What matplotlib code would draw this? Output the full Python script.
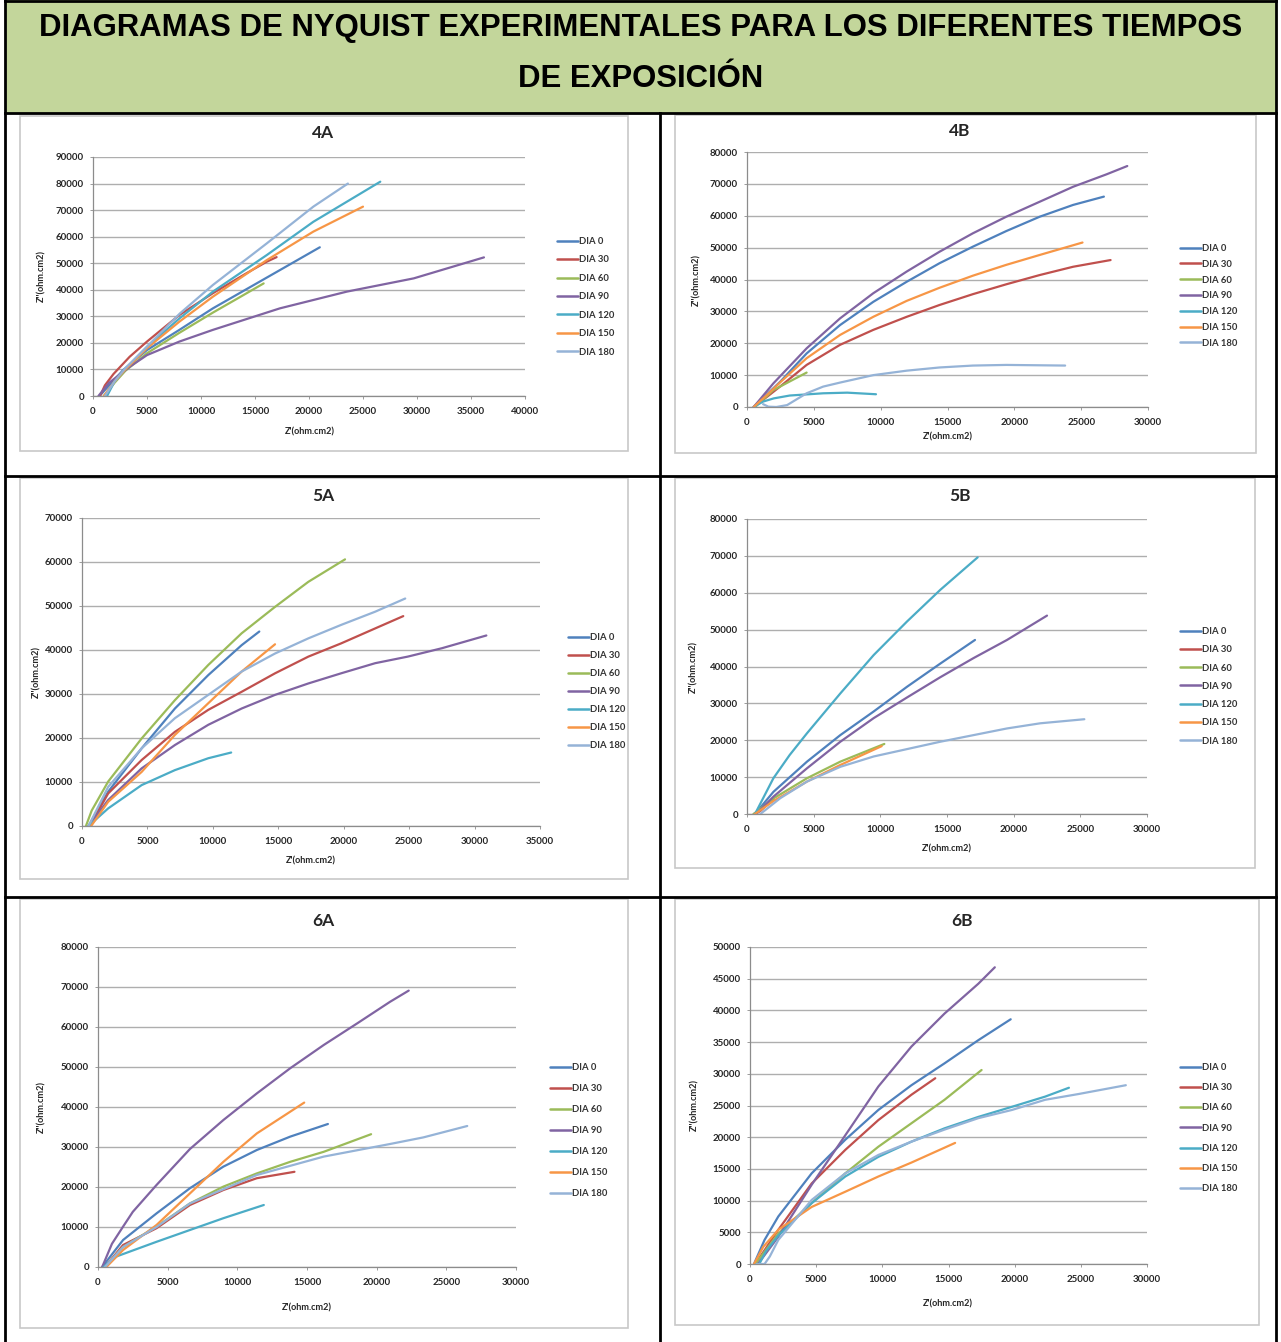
import matplotlib
matplotlib.use("Agg")
import matplotlib.pyplot as plt
from matplotlib.patches import Rectangle
from matplotlib.lines import Line2D

# ---------------- DATA ----------------
SERIES = ["DIA 0", "DIA 30", "DIA 60", "DIA 90", "DIA 120", "DIA 150", "DIA 180"]
COLORS = ["#4F81BD", "#C0504D", "#9BBB59", "#8064A2", "#4BACC6", "#F79646", "#95B3D7"]

TITLE_LINES = ["DIAGRAMAS DE NYQUIST EXPERIMENTALES PARA LOS DIFERENTES TIEMPOS",
               "DE EXPOSICIÓN"]
PANELS = ["4A", "4B", "5A", "5B", "6A", "6B"]
XLABEL = "Z'(ohm.cm2)"
YLABEL = "Z''(ohm.cm2)"

X_4A = [
    [600, 1500, 2800, 5000, 8000, 11100, 14200, 17300, 21000],
    [650, 1100, 1900, 3400, 5000, 8000, 11100, 14200, 16100, 17000],
    [1000, 2000, 3000, 5000, 8000, 11100, 13500, 15800],
    [500, 1500, 3400, 5000, 8000, 11100, 17300, 23500, 29700, 36200],
    [1300, 2000, 3000, 5000, 8000, 11100, 16100, 20400, 26600],
    [1000, 2000, 3000, 5000, 8000, 11100, 16100, 20400, 25000],
    [1100, 2000, 3000, 5000, 8050, 11100, 16100, 20400, 23600],
]
Y_4A = [
    [0, 4000, 9800, 17300, 24900, 33000, 40200, 47400, 56000],
    [0, 4000, 8300, 14800, 20500, 30500, 38700, 46200, 50600, 52300],
    [0, 5000, 9500, 16100, 23800, 31400, 37000, 42400],
    [0, 5000, 11000, 15400, 20500, 24900, 33000, 39300, 44300, 52200],
    [0, 5500, 10000, 18500, 29200, 39300, 53100, 65600, 80700],
    [0, 5500, 10000, 18000, 28000, 37400, 51200, 61900, 71300],
    [0, 5500, 10500, 18600, 31100, 41800, 57500, 71300, 80000],
]

X_4B = [
    [500, 1500, 2500, 4460, 6960, 9450, 11950, 14400, 16900, 19400, 21900, 24400, 26700],
    [500, 1500, 2500, 4460, 6960, 9450, 11950, 14400, 16900, 19400, 21900, 24400, 27200],
    [600, 1970, 4460],
    [500, 1970, 4460, 6960, 9450, 11950, 14400, 16900, 19400, 21900, 24400, 26900, 28450],
    [500, 1200, 2000, 3200, 5700, 7500, 9650],
    [500, 1500, 2500, 4460, 6960, 9450, 11950, 14400, 16900, 19400, 21900, 25100],
    [1200, 1600, 2200, 3000, 4460, 5700, 7000, 9450, 11950, 14400, 16900, 19400, 23800],
]
Y_4B = [
    [0, 4000, 8000, 16800, 25700, 33000, 39300, 45100, 50300, 55200, 59700, 63400, 66000],
    [0, 3200, 6500, 13200, 19500, 24200, 28300, 32000, 35400, 38500, 41400, 44000, 46100],
    [0, 5300, 10800],
    [0, 7400, 18400, 27800, 35700, 42500, 48700, 54500, 59700, 64400, 69100, 73000, 75600],
    [0, 1700, 2700, 3600, 4300, 4500, 4000],
    [0, 3800, 7800, 15300, 22600, 28300, 33300, 37400, 41200, 44600, 47700, 51600],
    [900, 100, 0, 600, 4300, 6400, 7700, 10000, 11400, 12400, 13000, 13200, 13000],
]

X_5A = [
    [500, 2000, 4560, 7100, 9650, 12200, 13550],
    [600, 2000, 4560, 7100, 9650, 12200, 14750, 17300, 19800, 22400, 24550],
    [300, 740, 2000, 4560, 7100, 9650, 12200, 14750, 17300, 20100],
    [500, 2000, 4560, 7100, 9650, 12200, 14750, 17300, 19800, 22400, 24900, 27500, 30900],
    [500, 2000, 4560, 7100, 9650, 11400],
    [700, 2000, 4560, 7100, 9650, 12200, 14750],
    [500, 2000, 4560, 7100, 9650, 12200, 14750, 17300, 19800, 22400, 24700],
]
Y_5A = [
    [0, 7800, 17650, 26700, 34300, 41100, 44200],
    [0, 7400, 15000, 21400, 26400, 30500, 34700, 38500, 41500, 44900, 47700],
    [0, 3500, 10100, 19900, 28600, 36600, 43800, 49800, 55500, 60600],
    [0, 5900, 13100, 18400, 23000, 26700, 29800, 32400, 34700, 37000, 38500, 40400, 43300],
    [0, 4000, 9300, 12700, 15400, 16700],
    [0, 5500, 12300, 20700, 27900, 35100, 41300],
    [0, 8900, 17650, 24500, 29800, 35100, 39200, 42650, 45700, 48700, 51700],
]

X_5B = [
    [600, 1980, 4500, 7000, 9500, 12000, 14500, 17100],
    [500, 1000, 1500, 2000],
    [500, 1980, 4500, 7000, 10300],
    [700, 1980, 4500, 7000, 9500, 12000, 14500, 17000, 19500, 22500],
    [600, 1980, 3200, 4500, 7000, 9500, 12000, 14500, 17300],
    [600, 1980, 4500, 7000, 10100],
    [1000, 1700, 2500, 4500, 7000, 9500, 14500, 19500, 22000, 25300],
]
Y_5B = [
    [0, 6000, 14200, 21400, 27800, 34500, 40800, 47200],
    [0, 800, 2500, 4000],
    [0, 4200, 9700, 14200, 19000],
    [0, 4700, 12400, 19600, 26000, 31600, 37100, 42300, 47200, 53800],
    [0, 9700, 16000, 21900, 32700, 43100, 52200, 60800, 69600],
    [0, 3500, 8800, 13300, 18400],
    [0, 2000, 4300, 8800, 12800, 15600, 19600, 23200, 24600, 25700],
]

X_6A = [
    [300, 1800, 4200, 6600, 9000, 11400, 13800, 16500],
    [500, 1800, 4200, 6600, 9000, 11400, 14100],
    [500, 1800, 4200, 6600, 9000, 11400, 13800, 16200, 19600],
    [300, 1000, 1800, 2500, 4200, 6600, 9000, 11400, 13800, 16200, 18600, 20960, 22300],
    [400, 1300, 4200, 6600, 9000, 11900],
    [600, 1800, 4200, 6600, 9000, 11400, 14800],
    [500, 1800, 4200, 6600, 11400, 16200, 20960, 23350, 26500],
]
Y_6A = [
    [0, 6750, 13400, 19700, 25100, 29250, 32600, 35750],
    [0, 5500, 9700, 15500, 19250, 22200, 23800],
    [0, 5000, 10100, 15900, 20100, 23400, 26300, 28800, 33200],
    [0, 5800, 10100, 13800, 20500, 29500, 36750, 43400, 49700, 55500, 60900, 66300, 69100],
    [0, 2600, 6300, 9250, 12200, 15500],
    [0, 4250, 10500, 18400, 26300, 33400, 41100],
    [0, 5000, 10000, 15900, 23000, 27600, 30750, 32400, 35250],
]

X_6B = [
    [300, 1100, 2140, 4660, 7200, 9700, 12200, 14700, 17250, 19700],
    [400, 2140, 4660, 7200, 9700, 12200, 14000],
    [400, 2140, 4660, 7200, 9700, 12200, 14700, 17500],
    [600, 2140, 4660, 7200, 9700, 12200, 14700, 17250, 18500],
    [700, 1200, 2140, 4660, 7200, 9700, 12200, 14700, 17250, 19800, 22300, 24100],
    [300, 1000, 2140, 4660, 7200, 9700, 12200, 15500],
    [500, 1100, 1500, 2140, 4660, 7200, 9700, 12200, 14700, 17250, 19800, 22300, 24800, 28400],
]
Y_6B = [
    [0, 3800, 7500, 14300, 19600, 24300, 28200, 31650, 35300, 38600],
    [0, 5400, 12700, 18000, 22700, 26700, 29300],
    [0, 4800, 9600, 14300, 18500, 22200, 25900, 30600],
    [0, 4300, 12500, 20300, 28000, 34300, 39500, 44200, 46800],
    [0, 2000, 4500, 9600, 13800, 16900, 19300, 21400, 23200, 24800, 26400, 27800],
    [0, 2700, 5400, 9000, 11400, 13800, 16000, 19100],
    [0, 0, 1200, 3800, 10100, 14300, 17200, 19300, 21200, 23000, 24300, 25900, 26800, 28200],
]

XMAX = [40000, 30000, 35000, 30000, 30000, 30000]
YMAX = [90000, 80000, 70000, 80000, 80000, 50000]
YSTEP = [10000, 10000, 10000, 10000, 10000, 5000]
XSTEP = 5000

# ---------------- LAYOUT ----------------
W, H = 1281, 1342
fig = plt.figure(figsize=(W / 100, H / 100), dpi=100)
fig.patch.set_facecolor("white")

def frac(l, t, r, b):
    return [l / W, 1 - b / H, (r - l) / W, (b - t) / H]

FONT = ["Lato", "DejaVu Sans"]
TXT = "#262626"

# header
fig.add_artist(Rectangle((5 / W, 1 - 113 / H), (1276 - 5) / W, 113 / H,
                         transform=fig.transFigure, facecolor="#C3D69B",
                         edgecolor="none", zorder=0))
for line, yy in zip(TITLE_LINES, [28, 79]):
    fig.text(641 / W, 1 - yy / H, line, ha="center", va="center", fontsize=22.4,
             fontweight="bold", family=["Liberation Sans", "DejaVu Sans"])

# table lines
def fline(x0, y0, x1, y1, lw=2.0):
    fig.add_artist(Line2D([x0 / W, x1 / W], [1 - y0 / H, 1 - y1 / H],
                          transform=fig.transFigure, color="black", lw=lw, zorder=5))

fline(5, 1, 1276, 1)
fline(5, 0, 5, H)
fline(1276, 0, 1276, H)
fline(5, 113, 1276, 113)
fline(5, 476, 1276, 476)
fline(5, 897, 1276, 897)
fline(660, 113, 660, H)

FRAMES = [(20, 116, 628, 451), (675, 115, 1256, 453),
          (20, 478, 628, 879), (675, 478, 1255, 868),
          (20, 899, 628, 1328), (675, 899, 1259, 1325)]
PLOTS = [(93, 157, 525, 396), (747, 152, 1148, 407),
         (82, 518, 540, 826), (747, 519, 1147, 814),
         (98, 947, 516, 1267), (750, 947, 1147, 1264)]
TITLE_POS = [(323, 133), (960, 131), (323, 496), (960, 496), (323, 921), (962, 921)]
XLAB_POS = [(310, 432), (948, 437), (311, 861), (947, 849), (307, 1308), (948, 1304)]
YLAB_POS = [(42, 276), (697, 280), (37, 672), (694, 667), (42, 1107), (695, 1105)]
LEG_POS = [(557, 237), (1180, 244), (568, 633), (1180, 627), (550, 1063), (1180, 1063)]
LEG_SP = [1.0, 0.72, 0.95, 0.98, 1.27, 1.19]

ALLX = [X_4A, X_4B, X_5A, X_5B, X_6A, X_6B]
ALLY = [Y_4A, Y_4B, Y_5A, Y_5B, Y_6A, Y_6B]

for i in range(6):
    l, t, r, b = FRAMES[i]
    fig.add_artist(Rectangle((l / W, 1 - b / H), (r - l) / W, (b - t) / H,
                             transform=fig.transFigure, facecolor="none",
                             edgecolor="#C8C8C8", lw=1.2, zorder=1))
    ax = fig.add_axes(frac(*PLOTS[i]))
    ax.set_facecolor("none")
    for xs, ys, c, name in zip(ALLX[i], ALLY[i], COLORS, SERIES):
        ax.plot(xs, ys, color=c, lw=1.6, label=name,
                solid_capstyle="round", solid_joinstyle="round")
    ax.set_xlim(0, XMAX[i])
    ax.set_ylim(0, YMAX[i])
    ax.set_xticks(range(0, XMAX[i] + 1, XSTEP))
    ax.set_yticks(range(0, YMAX[i] + 1, YSTEP[i]))
    ax.grid(axis="y", color="#AEAEAE", lw=1.0)
    ax.set_axisbelow(True)
    for s in ["top", "right"]:
        ax.spines[s].set_visible(False)
    for s in ["left", "bottom"]:
        ax.spines[s].set_color("#8C8C8C")
        ax.spines[s].set_linewidth(0.9)
    ax.tick_params(length=2, width=0.6, color="#8C8C8C", labelsize=7.0,
                   labelcolor=TXT)
    ax.tick_params(axis="y", pad=4.5)
    ax.tick_params(axis="x", pad=6)
    for lab in ax.get_xticklabels() + ax.get_yticklabels():
        lab.set_fontweight("bold")
        lab.set_family(FONT)
    tx, ty = TITLE_POS[i]
    fig.text(tx / W, 1 - ty / H, PANELS[i], ha="center", va="center",
             fontsize=12.5, fontweight="bold", family=FONT, color=TXT)
    xx, xy = XLAB_POS[i]
    fig.text(xx / W, 1 - xy / H, XLABEL, ha="center", va="center",
             fontsize=6.6, fontweight="bold", family=FONT, color=TXT)
    yx, yy = YLAB_POS[i]
    fig.text(yx / W, 1 - yy / H, YLABEL, ha="center", va="center", rotation=90,
             fontsize=6.6, fontweight="bold", family=FONT, color=TXT)
    lx, ly = LEG_POS[i]
    leg = ax.legend(loc="upper left", bbox_to_anchor=(lx / W, 1 - ly / H),
                    bbox_transform=fig.transFigure, frameon=False,
                    fontsize=6.8, handlelength=2.2, handletextpad=0.15,
                    labelspacing=LEG_SP[i], borderpad=0, borderaxespad=0)
    for txt in leg.get_texts():
        txt.set_family(FONT)
        txt.set_fontweight("bold")
        txt.set_color("#333333")
    for h in leg.legend_handles:
        h.set_linewidth(1.8)

fig.savefig("out.png", dpi=100, facecolor="white")
